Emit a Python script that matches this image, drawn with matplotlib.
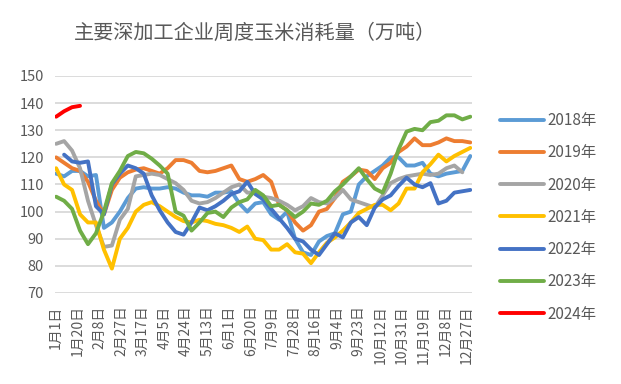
import numpy as np
import matplotlib
matplotlib.use("Agg")
import matplotlib.pyplot as plt

plt.rcParams['font.family'] = ['Noto Sans CJK SC', 'DejaVu Sans']

nan = np.nan
years = ['2018年', '2019年', '2020年', '2021年', '2022年', '2023年', '2024年']
colors = ['#5B9BD5', '#ED7D31', '#A5A5A5', '#FFC000', '#4472C4', '#70AD47', '#FF0000']

# weekly values, week i sits on day 7*i of the year
y2018 = [114, 113, 115, 115, 113, 113.5, 94, 96, 100, 105, 108.5, 109, 108.5, 108.5,
         109, 108.5, 107, 106, 106, 105.5, 107, 107, 107.5, 103, 100, 103, 103.5,
         99, 97, 100, 90, 85, 84, 89, 91, 92, 99, 100, 110, 113, 115, 117, 120, 120,
         117, 117, 118, 114, 113, 114, 114.5, 115, 120.5]
y2019 = [120, 118, 116, 115, 111, 104, 99, 108, 112.5, 114.5, 115.5, 116, 115, 114,
         116, 119, 119, 118, 115, 114.5, 115, 116, 117, 112, 111, 112, 113.5,
         111, 102.5, 100.5, 96, 93, 95, 100, 101, 105, 111, 113, 115.5, 115, 112,
         116, 118, 122, 124, 127, 124.5, 124.5, 125.5, 127, 126, 126, 125.5]
y2020 = [125, 126, 122.5, 116, 104, 95, 87, 87.5, 97, 101, 113, 113.5, 114, 113.5,
         112, 110.5, 108, 104, 103, 103.5, 105, 107, 109, 110, 107, 107, 105.5,
         105, 104, 102.5, 100.5, 102, 105, 103.5, 103, 105, 108, 104.5, 103.5, 102.5,
         101.5, 106, 110.5, 112, 113, 113.5, 114, 113.5, 114, 116, 117, 114.5]
y2021 = [116, 110, 108, 99, 96, 96, 86, 79, 90, 94, 100, 102.5, 103.5, 102, 100, 98,
         96.5, 96, 97, 96.5, 95.5, 95, 94, 92.5, 94.5, 90, 89.5, 86, 86, 88, 85, 84.5,
         81, 85, 88.5, 90.5, 93, 96, 99.5, 101, 102.5, 102.5, 100.5, 103, 108.5, 108.5,
         114.5, 117.5, 121, 118.5, 120.5, 122, 123.5]
y2022 = [nan, 121, 118.5, 118, 118.5, 102, 99, 110, 114, 117, 116, 114, 106, 100.5,
         96, 92.5, 91.5, 96, 101.5, 100.5, 102, 104, 106.5, 107.5, 111, 106.5, 104.5,
         101, 97.5, 94, 90, 89, 86, 84, 88, 92, 90.5, 96, 98, 95, 101.5, 104.5, 106,
         109.5, 112.5, 110, 109, 110.5, 103, 104, 107, 107.5, 108]
y2023 = [105.5, 104, 101, 93, 88, 92, 100, 110.5, 115, 120.5, 122, 121.5, 119.5, 117,
         114, 100, 98.5, 93, 96, 99.5, 100, 98, 101.5, 103.5, 104.5, 108, 106, 102,
         102.5, 100.5, 98, 100, 103, 102.5, 104, 107.5, 110, 113, 116, 112, 108.5, 107,
         114, 123, 129.5, 130.5, 130, 133, 133.5, 135.5, 135.5, 134, 135]
y2024 = [135, 137, 138.5, 139]
series = [y2018, y2019, y2020, y2021, y2022, y2023, y2024]

tick_days = list(range(0, 362, 19))
tick_labels = ['1月1日', '1月20日', '2月8日', '2月27日', '3月17日', '4月5日', '4月24日',
               '5月13日', '6月1日', '6月20日', '7月9日', '7月28日', '8月16日', '9月4日',
               '9月23日', '10月12日', '10月31日', '11月19日', '12月8日', '12月27日']

fig = plt.figure(figsize=(6.21, 3.84), dpi=100)
ax = fig.add_axes([55 / 621, 1 - 293 / 384, 417 / 621, 217 / 384])

for vals, name, c in zip(series, years, colors):
    days = np.arange(len(vals)) * 7
    ax.plot(days, vals, color=c, lw=2.8, label=name, solid_capstyle='round',
            solid_joinstyle='round')

ax.set_ylim(70, 150)
ax.set_yticks(range(70, 151, 10))
ax.set_xlim(-1, 365.5)
ax.set_xticks(tick_days)
ax.set_xticklabels(tick_labels, rotation=90, va='top', ha='center')
ax.yaxis.grid(True, color='#D9D9D9', lw=1.3)
ax.set_axisbelow(True)
for s in ax.spines.values():
    s.set_visible(False)
ax.tick_params(length=0, colors='#595959', labelsize=10)
ax.tick_params(axis='y', labelsize=10.5, pad=8)
ax.tick_params(axis='x', pad=9)

fig.text(255 / 621, 1 - 33 / 384, '主要深加工企业周度玉米消耗量（万吨）', ha='center',
         va='center', fontsize=14.5, color='#595959')

leg = fig.legend(loc='upper left', bbox_to_anchor=(500 / 621, 1 - 112 / 384),
                 frameon=False, fontsize=11, labelspacing=1.0, handlelength=2.9,
                 handletextpad=0.2, borderpad=0, borderaxespad=0)
for t in leg.get_texts():
    t.set_color('#595959')

fig.savefig('out.png', dpi=100)
